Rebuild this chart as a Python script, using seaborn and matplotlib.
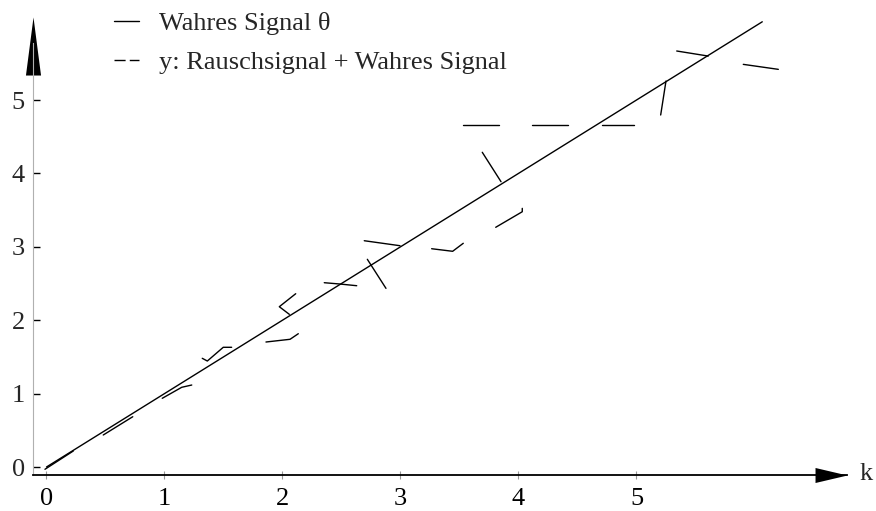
import numpy as np
import pandas as pd
import matplotlib.pyplot as plt
from matplotlib.lines import Line2D
import seaborn as sns

# Wahres Signal theta (Gerade)
k_wahr = [0.0, 6.066]
theta = [0.0, 6.066]

# Rauschsignal y: sichtbare Strichstuecke
strich_nr = [0, 0, 1, 1, 2, 2, 2, 3, 3, 3, 3, 4, 4, 4, 5, 5, 5, 6, 6, 6,
             7, 7, 8, 8, 9, 9, 9, 10, 10, 10, 11, 11, 12, 12, 13, 13,
             14, 14, 15, 15, 16, 16, 17, 17]
rausch_k = [-0.013, 0.227, 0.481, 0.731, 0.981, 1.146, 1.231,
            1.320, 1.363, 1.498, 1.569, 1.860, 2.064, 2.134,
            2.058, 1.973, 2.112, 2.354, 2.487, 2.629,
            2.719, 2.877, 2.693, 2.996, 3.264, 3.442, 3.532,
            3.807, 4.032, 4.032, 3.693, 3.852, 3.532, 3.835,
            4.117, 4.417, 4.710, 4.981, 5.205, 5.250,
            5.341, 5.608, 5.905, 6.202]
rausch_y = [-0.031, 0.218, 0.436, 0.685, 0.936, 1.086, 1.117,
            1.481, 1.444, 1.631, 1.631, 1.703, 1.740, 1.816,
            2.080, 2.184, 2.361, 2.511, 2.493, 2.470,
            2.830, 2.434, 3.083, 3.015, 2.974, 2.939, 3.048,
            3.266, 3.478, 3.524, 4.288, 3.887, 4.659, 4.659,
            4.659, 4.659, 4.659, 4.659, 4.796, 5.259,
            5.668, 5.599, 5.486, 5.418]

ticks = [0, 1, 2, 3, 4, 5]

sns.set_theme(style='white')
plt.rcParams['font.family'] = ['Liberation Serif', 'DejaVu Serif']
plt.rcParams['lines.scale_dashes'] = False

fig = plt.figure(figsize=(8.76, 5.11), dpi=100)
ax = fig.add_axes([0.03767, 0.07045, 0.92922, 0.84540])

df_wahr = pd.DataFrame({'k': k_wahr, 'theta': theta})
df_rausch = pd.DataFrame({'k': rausch_k, 'y': rausch_y, 'nr': strich_nr})

sns.lineplot(data=df_wahr, x='k', y='theta', color='black', lw=1.0,
             sort=False, estimator=None, clip_on=False, ax=ax)
sns.lineplot(data=df_rausch, x='k', y='y', units='nr', color='black', lw=1.0,
             sort=False, estimator=None, clip_on=False, ax=ax)

ax.set_xlim(-0.1144, 6.784)
ax.set_ylim(-0.109, 5.777)
ax.set_xticks(ticks)
ax.set_yticks(ticks)
ax.set_ylabel('')
ax.set_xlabel('k', fontsize=19)
ax.xaxis.set_label_coords(1.016, 0.003)
ax.xaxis.label.set_ha('left')
ax.xaxis.label.set_va('center')

sns.despine(ax=ax)
ax.spines['left'].set_color('#b0b0b0')
ax.spines['left'].set_linewidth(0.8)
ax.spines['bottom'].set_color('black')
ax.spines['bottom'].set_linewidth(1.3)

ax.tick_params(axis='x', direction='inout', length=6, width=0.8,
               color='#999999', labelcolor='black', labelsize=19, pad=6,
               bottom=True)
ax.tick_params(axis='y', direction='in', length=5, width=1.0,
               color='black', labelsize=19, pad=6, left=True)

# Pfeilspitzen der Achsen
pfeil_x = [(-1, -0.47), (1, 0), (-1, 0.47), (-1, -0.47)]
pfeil_y = [(-0.26, -1), (0, 1), (0.26, -1), (-0.26, -1)]
ax.plot(0.9803, 0, marker=pfeil_x, ms=23, color='black', mew=0,
        transform=ax.transAxes, clip_on=False)
ax.plot(0, 0.993, marker=pfeil_y, ms=41.8, color='black', mew=0,
        transform=ax.transAxes, clip_on=False)

griffe = [Line2D([], [], color='black', lw=1.0),
          Line2D([], [], color='black', lw=1.0, linestyle=(0, (8, 3)))]
ax.legend(griffe, ['Wahres Signal θ', 'y: Rauschsignal + Wahres Signal'],
          loc='upper left', bbox_to_anchor=(114 / 876, 1 - 12 / 511),
          bbox_transform=fig.transFigure, frameon=False, fontsize=19,
          borderpad=0, borderaxespad=0, handlelength=0.95,
          handletextpad=0.75, labelspacing=0.57)

fig.savefig('out.png', dpi=100)
